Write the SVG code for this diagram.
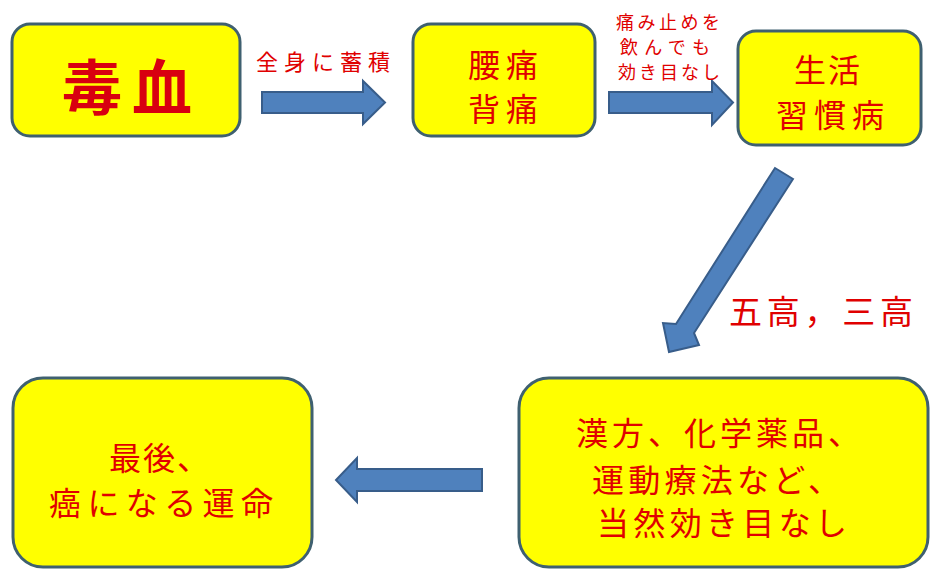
<svg xmlns="http://www.w3.org/2000/svg" width="935" height="588" viewBox="0 0 935 588">
<style>
.box{fill:#ffff00;stroke:#3f6070;stroke-width:3}
.arr{fill:#4f81bd;stroke:#385d8a;stroke-width:2;stroke-linejoin:miter}
text{font-family:"Noto Sans CJK JP","Noto Sans CJK SC",sans-serif;fill:#e00000}
.t30{font-size:32px}
.lab{font-size:22px}
.sm{font-size:18px}
</style>
<rect width="935" height="588" fill="#ffffff"/>
<g id="connectors">
<polygon class="arr" points="262,92 363,92 363,81 385,102.5 363,124 363,113 262,113"/>
<polygon class="arr" points="609,92 712,92 712,81 733,102.5 712,125 712,113 609,113"/>
<polygon class="arr" points="793,179 694,333 699,345 669,352 663,323 676,324 775,168"/>
<polygon class="arr" points="482,469 357,469 357,458 336,480 357,502 357,491 482,491"/>
<text class="lab" x="256" y="70" textLength="134" lengthAdjust="spacing">全身に蓄積</text>
<text class="sm" x="668" y="29" text-anchor="middle" textLength="104" lengthAdjust="spacing">痛み止めを</text>
<text class="sm" x="665" y="54" text-anchor="middle" textLength="90" lengthAdjust="spacing">飲んでも</text>
<text class="sm" x="669" y="79" text-anchor="middle" textLength="102" lengthAdjust="spacing">効き目なし</text>
<text style="font-size:33px" x="729" y="324" textLength="184" lengthAdjust="spacing">五高，三高</text>
</g>
<g id="node-dokuketsu">
<rect class="box" x="12" y="24" width="228" height="112" rx="18"/>
<text style="font-size:60px;font-weight:bold;fill:#d80010" x="62" y="110" textLength="130" lengthAdjust="spacing">毒血</text>
</g>
<g id="node-youtsuu">
<rect class="box" x="413" y="24" width="182" height="112" rx="18"/>
<text class="t30" x="503" y="77" text-anchor="middle" textLength="70" lengthAdjust="spacing">腰痛</text>
<text class="t30" x="503" y="121" text-anchor="middle" textLength="70" lengthAdjust="spacing">背痛</text>
</g>
<g id="node-seikatsu">
<rect class="box" x="738" y="31" width="183" height="114" rx="18"/>
<text class="t30" x="827" y="82" text-anchor="middle" textLength="66" lengthAdjust="spacing">生活</text>
<text class="t30" x="830" y="127" text-anchor="middle" textLength="108" lengthAdjust="spacing">習慣病</text>
</g>
<g id="node-kanpou">
<rect class="box" x="519" y="378" width="409" height="189" rx="30"/>
<text class="t30" x="576" y="445" textLength="284" lengthAdjust="spacing">漢方、化学薬品、</text>
<text class="t30" x="592" y="492" textLength="248" lengthAdjust="spacing">運動療法など、</text>
<text class="t30" x="597" y="535" textLength="250" lengthAdjust="spacing">当然効き目なし</text>
</g>
<g id="node-saigo">
<rect class="box" x="13" y="378" width="299" height="189" rx="30"/>
<text class="t30" x="109" y="470" textLength="100" lengthAdjust="spacing">最後、</text>
<text class="t30" x="49" y="515" textLength="224" lengthAdjust="spacing">癌になる運命</text>
</g>
</svg>
